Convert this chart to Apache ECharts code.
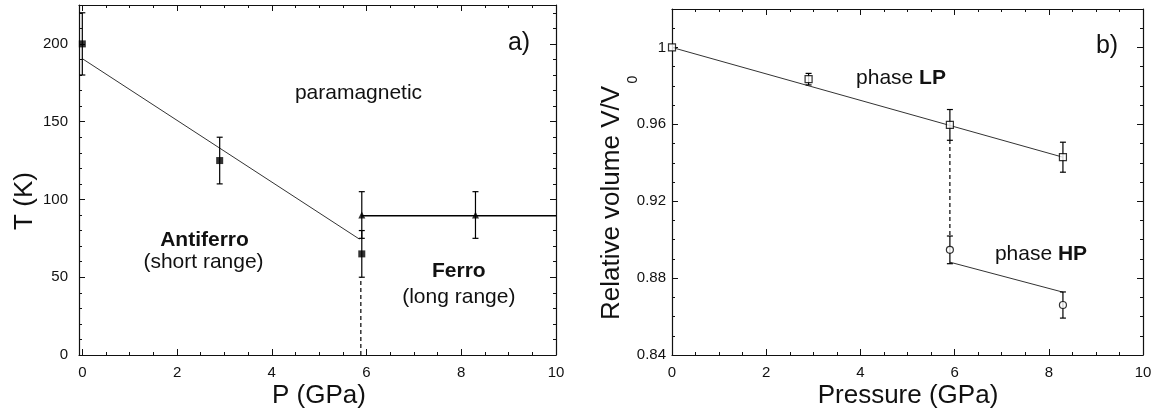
<!DOCTYPE html>
<html><head><meta charset="utf-8">
<script src="https://cdn.jsdelivr.net/npm/echarts@6/dist/echarts.min.js"></script>
<style>html,body{margin:0;padding:0;background:#fff}#c{width:1160px;height:416px}</style>
</head><body><div id="c"></div>
<script>
// ---------- panel a) : T vs P ----------
const pSquaresA = [0, 2.9, 5.9];
const tSquaresA = [200, 125, 65];
const eSquaresA = [20, 15, 15];
const pTrianglesA = [5.9, 8.3];
const tTrianglesA = [90, 90];
const eTrianglesA = [15, 15];
const afLineP = [0, 5.85];
const afLineT = [190.5, 74.5];
const fLineP = [5.9, 10];
const fLineT = [89.5, 89.5];
const dashAP = [5.88, 5.88];
const dashAT = [0, 50];

// ---------- panel b) : V/V0 vs P ----------
const pLP = [0, 2.9, 5.9, 8.3];
const vLP = [1.0, 0.9835, 0.9597, 0.9429];
const eLP = [0, 0.003, 0.008, 0.0078];
const pHP = [5.9, 8.3];
const vHP = [0.8947, 0.866];
const eHP = [0.0072, 0.0068];
const lpLineP = [0, 8.3];
const lpLineV = [1.0, 0.9429];
const hpLineP = [5.9, 8.3];
const hpLineV = [0.8883, 0.8727];
const dashBP = [5.9, 5.9];
const dashBV = [0.9519, 0.9021];

// ---------- ticks ----------
const pMajorTicks = [0, 2, 4, 6, 8, 10];
const pMinorTicks = [0.5, 1, 1.5, 2.5, 3, 3.5, 4.5, 5, 5.5, 6.5, 7, 7.5, 8.5, 9, 9.5];
const tMajorTicks = [0, 50, 100, 150, 200];
const tMinorTicks = [10, 20, 30, 40, 60, 70, 80, 90, 110, 120, 130, 140, 160, 170, 180, 190, 210, 220];
const vMajorTicks = [0.84, 0.88, 0.92, 0.96, 1];
const vMinorTicks = [0.85, 0.86, 0.87, 0.89, 0.90, 0.91, 0.93, 0.94, 0.95, 0.97, 0.98, 0.99, 1.01];

const FONT = "'Liberation Sans', Arial, Helvetica, sans-serif";
const INK = '#111';

function zip(a, b, c) { return a.map((v, i) => c ? [v, b[i], c[i]] : [v, b[i]]); }

function axes(dim, gridIndex, min, max, major, minor, mainPos, otherPos, labelMargin) {
  const base = { type: 'value', gridIndex, min, max, splitLine: { show: false }, silent: true };
  const tickStyle = { color: INK, width: 1 };
  return [
    Object.assign({}, base, {
      position: mainPos,
      axisLine: { show: true, onZero: false, lineStyle: { color: INK, width: 1.2 } },
      axisTick: { show: true, inside: true, length: 6, lineStyle: tickStyle, customValues: major },
      axisLabel: { show: true, customValues: major, color: INK, fontSize: 15, fontFamily: FONT, margin: labelMargin }
    }),
    Object.assign({}, base, {
      position: mainPos,
      axisLine: { show: false, onZero: false },
      axisTick: { show: true, inside: true, length: 3, lineStyle: tickStyle, customValues: minor },
      axisLabel: { show: false }
    }),
    Object.assign({}, base, {
      position: otherPos,
      axisLine: { show: true, onZero: false, lineStyle: { color: INK, width: 1.2 } },
      axisTick: { show: true, inside: true, length: 6, lineStyle: tickStyle, customValues: major },
      axisLabel: { show: false }
    }),
    Object.assign({}, base, {
      position: otherPos,
      axisLine: { show: false, onZero: false },
      axisTick: { show: true, inside: true, length: 3, lineStyle: tickStyle, customValues: minor },
      axisLabel: { show: false }
    })
  ];
}

function errRender(params, api) {
  const x = api.value(0), y = api.value(1), e = api.value(2);
  if (!e) return null;
  const top = api.coord([x, y + e]);
  const bot = api.coord([x, y - e]);
  const h = 3;
  const st = { stroke: '#000', lineWidth: 1.2 };
  return {
    type: 'group',
    children: [
      { type: 'line', shape: { x1: top[0], y1: top[1], x2: bot[0], y2: bot[1] }, style: st },
      { type: 'line', shape: { x1: top[0] - h, y1: top[1], x2: top[0] + h, y2: top[1] }, style: st },
      { type: 'line', shape: { x1: bot[0] - h, y1: bot[1], x2: bot[0] + h, y2: bot[1] }, style: st }
    ]
  };
}

function lineSeries(xi, yi, data, style) {
  return { type: 'line', xAxisIndex: xi, yAxisIndex: yi, data, showSymbol: false, symbol: 'none',
    lineStyle: style, silent: true, animation: false, z: 2 };
}
function errSeries(xi, yi, data) {
  return { type: 'custom', xAxisIndex: xi, yAxisIndex: yi, data, renderItem: errRender,
    encode: { x: 0, y: 1 }, silent: true, animation: false, z: 3 };
}
function markSeries(xi, yi, data, symbol, itemStyle) {
  return { type: 'scatter', xAxisIndex: xi, yAxisIndex: yi, data, symbol, symbolSize: 7,
    itemStyle, silent: true, animation: false, z: 4 };
}

function txt(x, y, text, size, extra) {
  return { type: 'text', x, y, silent: true, z: 10,
    style: Object.assign({ text, fontSize: size, fontFamily: FONT, fill: INK,
      textAlign: 'center', textVerticalAlign: 'middle' }, extra || {}) };
}

const option = {
  backgroundColor: '#fff',
  animation: false,
  grid: [
    { left: 79, right: 604, top: 5, bottom: 61, containLabel: false },
    { left: 672, right: 17, top: 9, bottom: 61, containLabel: false }
  ],
  xAxis: [].concat(
    axes('x', 0, -0.07, 10, pMajorTicks, pMinorTicks, 'bottom', 'top', 10),
    axes('x', 1, 0, 10, pMajorTicks, pMinorTicks, 'bottom', 'top', 10)
  ),
  yAxis: [].concat(
    axes('y', 0, 0, 225, tMajorTicks, tMinorTicks, 'left', 'right', 11),
    axes('y', 1, 0.84, 1.02, vMajorTicks, vMinorTicks, 'left', 'right', 6)
  ),
  series: [
    // panel a
    lineSeries(0, 0, zip(afLineP, afLineT), { color: '#333', width: 1 }),
    lineSeries(0, 0, zip(fLineP, fLineT), { color: '#000', width: 1.4 }),
    lineSeries(0, 0, zip(dashAP, dashAT), { color: '#000', width: 1.2, type: [4, 3] }),
    errSeries(0, 0, zip(pSquaresA, tSquaresA, eSquaresA)),
    errSeries(0, 0, zip(pTrianglesA, tTrianglesA, eTrianglesA)),
    markSeries(0, 0, zip(pSquaresA, tSquaresA), 'rect', { color: '#000' }),
    markSeries(0, 0, zip(pTrianglesA, tTrianglesA), 'triangle', { color: '#000' }),
    // panel b
    lineSeries(4, 4, zip(lpLineP, lpLineV), { color: '#333', width: 1 }),
    lineSeries(4, 4, zip(hpLineP, hpLineV), { color: '#333', width: 1 }),
    lineSeries(4, 4, zip(dashBP, dashBV), { color: '#000', width: 1.2, type: [4, 3] }),
    errSeries(4, 4, zip(pLP, vLP, eLP)),
    errSeries(4, 4, zip(pHP, vHP, eHP)),
    markSeries(4, 4, zip(pLP, vLP), 'rect', { color: '#fff', borderColor: '#000', borderWidth: 1.2 }),
    markSeries(4, 4, zip(pHP, vHP), 'circle', { color: '#fff', borderColor: '#000', borderWidth: 1.2 })
  ],
  graphic: [
    txt(24.6, 201, 'T (K)', 26, {}),
    txt(319, 396, 'P (GPa)', 26),
    txt(908, 396, 'Pressure (GPa)', 26),
    txt(612, 203, 'Relative volume V/V', 26),
    txt(633, 79.5, '0', 14),
    txt(519, 43.5, 'a)', 25),
    txt(1107, 46, 'b)', 25),
    txt(358.5, 93, 'paramagnetic', 21),
    txt(204.5, 240, 'Antiferro', 21, { fontWeight: 'bold' }),
    txt(203.5, 262, '(short range)', 21),
    txt(458.8, 271, 'Ferro', 21, { fontWeight: 'bold' }),
    txt(458.8, 297, '(long range)', 21),
    txt(901, 78, '{r|phase }{b|LP}', 21, { rich: { r: { fontSize: 21, fontFamily: FONT, fill: INK }, b: { fontSize: 21, fontFamily: FONT, fontWeight: 'bold', fill: INK } } }),
    txt(1041, 254, '{r|phase }{b|HP}', 21, { rich: { r: { fontSize: 21, fontFamily: FONT, fill: INK }, b: { fontSize: 21, fontFamily: FONT, fontWeight: 'bold', fill: INK } } })
  ]
};
// rotate vertical titles
option.graphic[0].rotation = Math.PI / 2;
option.graphic[3].rotation = Math.PI / 2;
option.graphic[4].rotation = Math.PI / 2;

const chart = echarts.init(document.getElementById('c'), null, { renderer: 'canvas' });
chart.setOption(option);
</script></body></html>
